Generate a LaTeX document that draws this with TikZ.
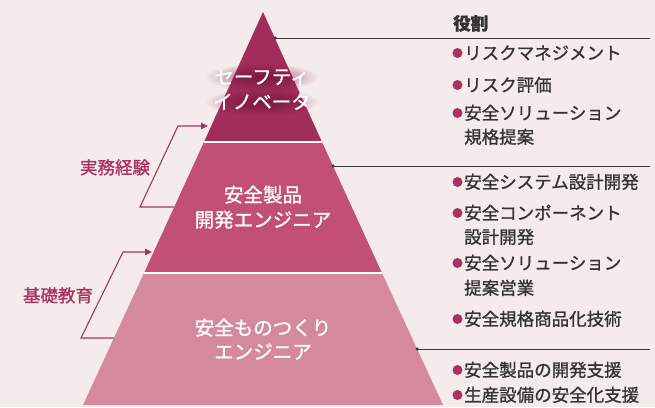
\documentclass[tikz,border=0pt]{standalone}
\usepackage{fontspec}
\setmainfont{Noto Sans CJK JP}[FakeBold=1.1]
\usetikzlibrary{arrows.meta,calc,fadings}
\tikzfading[name=glowfade, inner color=transparent!0, outer color=transparent!100]
\definecolor{bg}{HTML}{F6EBEB}
\definecolor{tierA}{HTML}{A12D5A}
\definecolor{tierB}{HTML}{C25073}
\definecolor{tierC}{HTML}{D48A9C}
\definecolor{accent}{HTML}{A83262}
\definecolor{txt}{HTML}{333333}
\definecolor{linec}{HTML}{3C3C3C}
\definecolor{glowc}{HTML}{6A1034}
\tikzset{
  rtext/.style={anchor=base west, inner sep=0pt, text=txt, font=\fontsize{17.5}{20}\selectfont},
  tiertext/.style={anchor=base, inner sep=0pt, text=white, font=\fontsize{19.5}{22}\selectfont},
  sidelabel/.style={anchor=base, inner sep=0pt, text=accent, font=\fontsize{17.5}{20}\selectfont},
  bulletdot/.style={circle, fill=accent, inner sep=0pt, minimum size=10pt},
  leader/.style={draw=linec, line width=0.8pt},
  leaderdot/.style={circle, fill=linec, inner sep=0pt, minimum size=3.5pt},
  climb/.style={draw=accent, line width=1.1pt, -{Triangle[length=7pt,width=6.5pt]}},
  divider/.style={draw=white, line width=1.5pt},
  glow/.style={fill=glowc, fill opacity=0.7, path fading=glowfade}
}
\begin{document}
\begin{tikzpicture}[x=1pt,y=-1pt]
\useasboundingbox[fill=bg] (0,0) rectangle (655,407);
% pyramid
\coordinate (apex) at (263,12);
\coordinate (bl) at (83,405);
\coordinate (br) at (443,405);
\coordinate (m1l) at (204,142);
\coordinate (m1r) at (322,142);
\coordinate (m2l) at (144,273);
\coordinate (m2r) at (382,273);
\fill[tierC] (m2l) -- (m2r) -- (br) -- (bl) -- cycle;
\fill[tierB] (m1l) -- (m1r) -- (m2r) -- (m2l) -- cycle;
\fill[tierA] (apex) -- (m1r) -- (m1l) -- cycle;
\draw[divider] (m1l) -- (m1r);
\draw[divider] (m2l) -- (m2r);
% soft glow behind top text
\fill[glow] (262,77) ellipse [x radius=57, y radius=14];
\fill[glow] (262,102) ellipse [x radius=57, y radius=14];
\node[tiertext] (t1a) at (262,84) {セーフティ};
\node[tiertext] (t1b) at (262,109) {イノベータ};
\node[tiertext] (t2a) at (263,202) {安全製品};
\node[tiertext] (t2b) at (263,227) {開発エンジニア};
\node[tiertext] (t3a) at (263,335) {安全ものつくり};
\node[tiertext] (t3b) at (263,359) {エンジニア};
% side arrows
\coordinate (a1s) at (174,207);
\coordinate (a1b) at (140,207);
\coordinate (a1t) at (178,126);
\coordinate (a1e) at (208,126);
\draw[climb] (a1s) -- (a1b) -- (a1t) -- (a1e);
\coordinate (a2s) at (114,338);
\coordinate (a2b) at (81,338);
\coordinate (a2t) at (123,252);
\coordinate (a2e) at (152,252);
\draw[climb] (a2s) -- (a2b) -- (a2t) -- (a2e);
\node[sidelabel] (lab1) at (115,174) {実務経験};
\node[sidelabel] (lab2) at (58,302) {基礎教育};
% leaders
\node[leaderdot] (d1) at (275,38) {};
\coordinate (e1) at (650,38);
\draw[leader] (d1.center) -- (e1);
\node[leaderdot] (d2) at (333,166) {};
\coordinate (e2) at (650,166);
\draw[leader] (d2.center) -- (e2);
\node[leaderdot] (d3) at (417,349) {};
\coordinate (e3) at (650,349);
\draw[leader] (d3.center) -- (e3);
% roles
\node[rtext, font=\fontsize{17.5}{20}\selectfont\bfseries] (head) at (453,30) {役割};
\foreach \y/\t/\b [count=\i] in {
  53/リスクマネジメント/1,
  85/リスク評価/1,
  113/安全ソリューション/1,
  137/規格提案/0,
  182/安全システム設計開発/1,
  213/安全コンポーネント/1,
  237/設計開発/0,
  263/安全ソリューション/1,
  288/提案営業/0,
  319/安全規格商品化技術/1,
  370/安全製品の開発支援/1,
  395/生産設備の安全化支援/1}{
  \node[rtext] (r\i) at (464,\y+6.5) {\t};
  \ifnum\b=1 \node[bulletdot] (b\i) at (457.5,\y) {};\fi
}
\end{tikzpicture}
\end{document}
